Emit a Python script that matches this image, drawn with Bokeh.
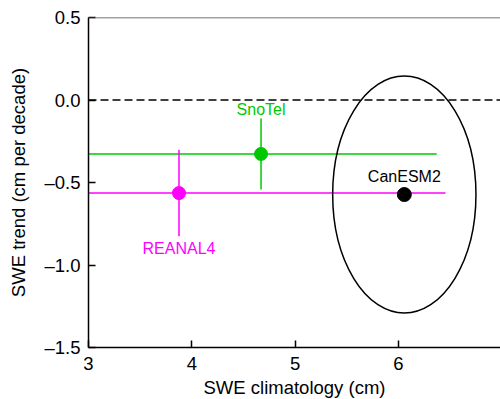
from bokeh.plotting import figure
from bokeh.models import Span, Range1d, FixedTicker, Label, Title
from bokeh.embed import file_html
from bokeh.resources import INLINE

# --- data ---
obs_names = ["SnoTel", "REANAL4"]
obs_x = [4.67, 3.876]
obs_y = [-0.327, -0.564]
obs_xerr = [1.70, 2.58]
obs_yerr = [0.215, 0.262]
obs_colors = ["#00c800", "#ff00ff"]

model_name = "CanESM2"
model_x = 6.057
model_y = -0.573
model_spread_x = 1.387
model_spread_y = 1.436

x_ticks = [3, 4, 5, 6, 7]
y_ticks = [-1.5, -1.0, -0.5, 0.0, 0.5]
y_tick_labels = ["\u20131.5", "\u20131.0", "\u20130.5", "0.0", "0.5"]
zero_line = 0.0
x_title = "SWE climatology (cm)"
y_title = "SWE trend (cm per decade)"

FONT = "Liberation Sans"

p = figure(width=500, height=399, output_backend="svg", toolbar_location=None,
           x_range=Range1d(3, 6.988), y_range=Range1d(-1.5, 0.5),
           min_border_left=88, min_border_right=0, min_border_top=17, min_border_bottom=51)
p.outline_line_color = None
p.grid.visible = False
p.background_fill_color = "white"

# axes styling
for ax in (p.xaxis[0], p.yaxis[0]):
    ax.major_tick_in = 7
    ax.major_tick_out = 0
    ax.minor_tick_line_color = None
    ax.axis_line_color = "black"
    ax.axis_line_width = 1.5
    ax.major_tick_line_color = "black"
    ax.major_tick_line_width = 1.5
    ax.major_label_text_font = FONT
    ax.major_label_text_font_size = "18.5px"
    ax.major_label_text_color = "black"
    ax.axis_label_text_font = FONT
    ax.axis_label_text_font_size = "18.5px"
    ax.axis_label_text_font_style = "normal"
    ax.axis_label_text_color = "black"

p.xaxis.ticker = FixedTicker(ticks=x_ticks)
p.yaxis.ticker = FixedTicker(ticks=y_ticks)
p.yaxis.major_label_overrides = {t: l for t, l in zip(y_ticks, y_tick_labels)}
p.yaxis.axis_label = y_title
p.xaxis.major_label_standoff = 9
p.yaxis.major_label_standoff = 8
p.yaxis.axis_label_standoff = 12

# x-axis title as a Title in the bottom panel
p.add_layout(Title(text=x_title, align="center", text_font=FONT, text_font_size="18.5px",
                   text_font_style="normal", text_color="black", standoff=4), "below")

# top frame line
p.add_layout(Span(location=0.5, dimension="width", line_color="#444444", line_width=1.5))
# zero line
p.add_layout(Span(location=zero_line, dimension="width", line_color="black",
                  line_width=1.3, line_dash="8 4"))

# error bars
for xv, yv, xe, ye, c in zip(obs_x, obs_y, obs_xerr, obs_yerr, obs_colors):
    p.segment(x0=[xv - xe], y0=[yv], x1=[xv + xe], y1=[yv], line_color=c, line_width=1.5)
    p.segment(x0=[xv], y0=[yv - ye], x1=[xv], y1=[yv + ye], line_color=c, line_width=1.5)

# model ellipse
p.ellipse(x=[model_x], y=[model_y], width=[model_spread_x], height=[model_spread_y],
          fill_color=None, line_color="black", line_width=1.5)

# points
p.scatter(x=obs_x, y=obs_y, size=13, fill_color=obs_colors, line_color=obs_colors)
p.scatter(x=[model_x], y=[model_y], size=14, fill_color="black", line_color="black")

# labels
offsets = [44, -55]
for name, xv, yv, c, off in zip(obs_names, obs_x, obs_y, obs_colors, offsets):
    p.add_layout(Label(x=xv, y=yv, y_offset=off, text=name, text_color=c,
                       text_align="center", text_baseline="middle",
                       text_font=FONT, text_font_size="16px"))
p.add_layout(Label(x=model_x, y=model_y, y_offset=18, text=model_name, text_color="black",
                   text_align="center", text_baseline="middle",
                   text_font=FONT, text_font_size="16px"))

open("out.html", "w").write(file_html(p, INLINE))
